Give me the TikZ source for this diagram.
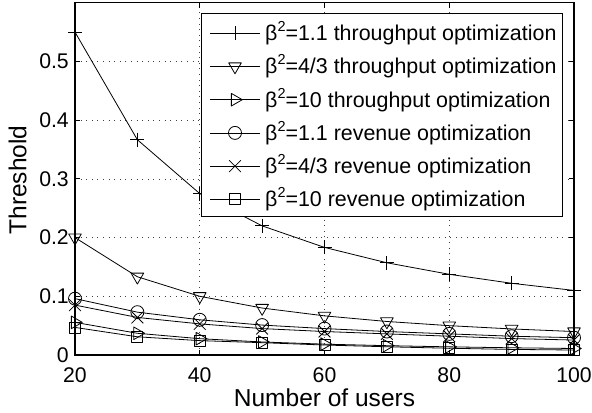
\documentclass[tikz,border=0pt]{standalone}
\usepackage{fontspec}
\setmainfont{Liberation Sans}
\usetikzlibrary{plotmarks}
\begin{document}
\begin{tikzpicture}[x=1bp,y=1bp,
  gridline/.style={black!75, line width=0.7bp, dash pattern=on 1bp off 4.6bp},
  axisline/.style={black, line width=1.3bp},
  tickmark/.style={black, line width=0.9bp},
  curve/.style={black, line width=0.8bp, line join=round},
  ticklabel/.style={font=\fontsize{21.3}{25}\selectfont, inner sep=0pt},
  axlabel/.style={font=\fontsize{24.6}{29}\selectfont, inner sep=0pt},
  legtext/.style={font=\fontsize{21.5}{25}\selectfont, inner sep=0pt, anchor=base west},
  mplus/.style={mark=+, mark size=7bp},
  mtdown/.style={mark=triangle, mark size=7.3bp, mark options={rotate=180}},
  mtright/.style={mark=triangle, mark size=7.3bp, mark options={rotate=-90}},
  mcirc/.style={mark=o, mark size=6.5bp},
  mcross/.style={mark=x, mark size=8.3bp},
  msq/.style={mark=square, mark size=5.5bp}]
\useasboundingbox (0,0) rectangle (592,412);
\fill[white] (0,0) rectangle (592,412);

% data scope: x in users, y in threshold
\begin{scope}[shift={(-49.75bp,57bp)}, x=6.2375bp, y=587bp]
  % grid
  \foreach \gx in {40,60,80} \draw[gridline] (\gx,0) -- (\gx,0.6);
  \foreach \gy in {0.1,0.2,0.3,0.4,0.5} \draw[gridline] (20,\gy) -- (100,\gy);
  % curves
  \draw[curve] plot[mplus] coordinates {(20,0.55) (30,0.3667) (40,0.275) (50,0.22) (60,0.1833) (70,0.1571) (80,0.1375) (90,0.1222) (100,0.11)};
  \draw[curve] plot[mtdown] coordinates {(20,0.2) (30,0.1333) (40,0.1) (50,0.08) (60,0.0667) (70,0.0571) (80,0.05) (90,0.0444) (100,0.04)};
  \draw[curve] plot[mtright] coordinates {(20,0.0556) (30,0.0370) (40,0.0278) (50,0.0222) (60,0.0185) (70,0.0159) (80,0.0139) (90,0.0123) (100,0.0111)};
  \draw[curve] plot[mcirc] coordinates {(20,0.096) (30,0.073) (40,0.060) (50,0.051) (60,0.045) (70,0.040) (80,0.036) (90,0.032) (100,0.0295)};
  \draw[curve] plot[mcross] coordinates {(20,0.085) (30,0.064) (40,0.053) (50,0.045) (60,0.040) (70,0.036) (80,0.032) (90,0.028) (100,0.0255)};
  \draw[curve] plot[msq] coordinates {(20,0.047) (30,0.031) (40,0.0245) (50,0.021) (60,0.017) (70,0.014) (80,0.0115) (90,0.0095) (100,0.0085)};
  % ticks
  \foreach \gx in {40,60,80} {
    \draw[tickmark] (\gx,0) -- ++(0,5bp);
    \draw[tickmark] (\gx,0.6) -- ++(0,-5bp);
  }
  \foreach \gy in {0.1,0.2,0.3,0.4,0.5} {
    \draw[tickmark] (20,\gy) -- ++(5bp,0);
    \draw[tickmark] (100,\gy) -- ++(-5bp,0);
  }
\end{scope}

% legend
\draw[black, line width=0.9bp, fill=white] (201,196) rectangle (562,399);
\foreach \i/\yy/\mk/\txt in {
  1/378.7/mplus/{=1.1 throughput optimization},
  2/345.5/mtdown/{=4/3 throughput optimization},
  3/312.3/mtright/{=10 throughput optimization},
  4/279.1/mcirc/{=1.1 revenue optimization},
  5/245.9/mcross/{=4/3 revenue optimization},
  6/212.7/msq/{=10 revenue optimization}} {
  \draw[curve] (210,\yy) -- (260,\yy);
  \draw[curve] plot[\mk] coordinates {(235,\yy)};
  \node[legtext] (leg\i) at (265,\yy-7.4) {β\raisebox{0.42em}{\fontsize{14.5}{14.5}\selectfont 2}\txt};
}

% axes box
\draw[axisline] (75,57) rectangle (574,409.2);

% tick labels
\foreach \v/\yy in {0/57,0.1/115.7,0.2/174.4,0.3/233.1,0.4/291.8,0.5/350.5}
  \node[ticklabel, anchor=east] (yt\v) at (69,\yy) {\v};
\foreach \v/\xx in {20/75,40/199.75,60/324.5,80/449.25,100/574}
  \node[ticklabel, anchor=base] (xt\v) at (\xx,30) {\v};

% axis labels
\node[axlabel, anchor=base] (xlabel) at (324.5,6) {Number of users};
\node[axlabel, rotate=90] (ylabel) at (17.5,232) {Threshold};
\end{tikzpicture}
\end{document}
